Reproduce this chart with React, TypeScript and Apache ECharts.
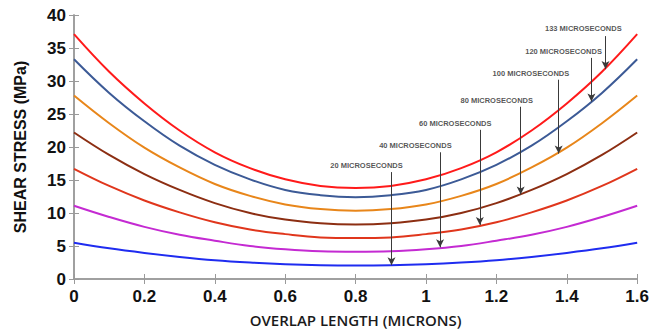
import React, { useEffect, useRef } from "react";
import * as echarts from "echarts";

const xValues = [0, 0.1, 0.2, 0.3, 0.4, 0.5, 0.6, 0.7, 0.8, 0.9, 1.0, 1.1, 1.2, 1.3, 1.4, 1.5, 1.6];

const s133 = [37.1, 31.4, 26.6, 22.5, 19.2, 16.8, 15.1, 14.1, 13.8, 14.1, 15.1, 16.8, 19.2, 22.5, 26.6, 31.4, 37.1];
const s120 = [33.3, 28.2, 23.9, 20.2, 17.3, 15.1, 13.5, 12.7, 12.4, 12.7, 13.5, 15.1, 17.3, 20.2, 23.9, 28.2, 33.3];
const s100 = [27.8, 23.6, 19.9, 16.9, 14.4, 12.6, 11.3, 10.6, 10.35, 10.6, 11.3, 12.6, 14.4, 16.9, 19.9, 23.6, 27.8];
const s80 = [22.2, 18.8, 15.9, 13.5, 11.5, 10.0, 9.0, 8.45, 8.27, 8.45, 9.0, 10.0, 11.5, 13.5, 15.9, 18.8, 22.2];
const s60 = [16.7, 14.1, 11.9, 10.1, 8.6, 7.5, 6.8, 6.3, 6.2, 6.3, 6.8, 7.5, 8.6, 10.1, 11.9, 14.1, 16.7];
const s40 = [11.1, 9.4, 7.9, 6.7, 5.8, 5.0, 4.5, 4.2, 4.13, 4.2, 4.5, 5.0, 5.8, 6.7, 7.9, 9.4, 11.1];
const s20 = [5.5, 4.65, 3.95, 3.35, 2.85, 2.5, 2.25, 2.1, 2.05, 2.1, 2.25, 2.5, 2.85, 3.35, 3.95, 4.65, 5.5];

const seriesNames = ["133 MICROSECONDS", "120 MICROSECONDS", "100 MICROSECONDS", "80 MICROSECONDS", "60 MICROSECONDS", "40 MICROSECONDS", "20 MICROSECONDS"];
const seriesData = [s133, s120, s100, s80, s60, s40, s20];
const seriesColors = ["#ff1a1a", "#3c5a96", "#e8861a", "#8c2e12", "#e0361c", "#c42ad2", "#1f2cf0"];

// annotation positions (data coordinates)
const labelX = [1.447, 1.391, 1.298, 1.201, 1.083, 0.970, 0.831];
const labelY = [37.9, 34.4, 31.1, 27.1, 23.5, 20.2, 17.2];
const arrowX = [1.51, 1.47, 1.377, 1.269, 1.153, 1.04, 0.902];
const arrowTop = [36.8, 33.5, 30.2, 26.1, 22.6, 19.2, 16.2];
const arrowTip = [31.8, 26.9, 19.0, 12.8, 8.2, 4.8, 2.1];

const axisColor = "#9a9a9a";

export default function App() {
  const ref = useRef<HTMLDivElement>(null);
  useEffect(() => {
    if (!ref.current) return;
    const chart = echarts.init(ref.current, null, { renderer: "svg" });
    const lineSeries = seriesData.map((d, i) => ({
      type: "line",
      name: seriesNames[i],
      data: d.map((v, j) => [xValues[j], v]),
      smooth: 0.4,
      showSymbol: false,
      symbol: "none",
      lineStyle: { color: seriesColors[i], width: 2 },
      itemStyle: { color: seriesColors[i] },
      silent: true,
      z: 2,
      markLine: {
        silent: true,
        symbol: ["none", "arrow"],
        symbolSize: [6, 8],
        label: { show: false },
        lineStyle: { color: "#3a3a3a", width: 1, type: "solid" },
        data: [[{ coord: [arrowX[i], arrowTop[i]] }, { coord: [arrowX[i], arrowTip[i]] }]],
      },
    }));
    const option: any = {
      animation: false,
      backgroundColor: "#ffffff",
      grid: { left: 74, top: 15, right: 12, bottom: 57, containLabel: false },
      xAxis: [
        {
          type: "value",
          min: 0,
          max: 1.6,
          interval: 0.2,
          name: "OVERLAP LENGTH (MICRONS)",
          nameLocation: "middle",
          nameGap: 33,
          nameTextStyle: { fontFamily: "Open Sans", fontWeight: 600, fontSize: 15, color: "#1a1a1a" },
          axisLine: { lineStyle: { color: axisColor, width: 1.5 } },
          axisTick: { inside: true, length: 5, lineStyle: { color: axisColor } },
          axisLabel: { fontFamily: "Liberation Sans", fontWeight: "bold", fontSize: 17, color: "#111", margin: 9 },
          splitLine: { show: false },
        },
        {
          type: "value",
          position: "top",
          min: 0,
          max: 1.6,
          interval: 0.2,
          axisLine: { lineStyle: { color: axisColor, width: 1.5 } },
          axisTick: { inside: true, length: 5, lineStyle: { color: axisColor } },
          axisLabel: { show: false },
          splitLine: { show: false },
        },
      ],
      yAxis: [
        {
          type: "value",
          min: 0,
          max: 40,
          interval: 5,
          name: "SHEAR STRESS (MPa)",
          nameLocation: "middle",
          nameGap: 46,
          nameTextStyle: { fontFamily: "Liberation Sans", fontWeight: "bold", fontSize: 16, color: "#111" },
          axisLine: { show: true, lineStyle: { color: axisColor, width: 1.5 } },
          axisTick: { show: true, inside: true, length: 5, lineStyle: { color: axisColor } },
          axisLabel: { fontFamily: "Liberation Sans", fontWeight: "bold", fontSize: 17, color: "#111", margin: 8 },
          splitLine: { show: false },
        },
        {
          type: "value",
          position: "right",
          min: 0,
          max: 40,
          interval: 5,
          axisLine: { show: true, lineStyle: { color: axisColor, width: 1.5 } },
          axisTick: { show: true, inside: true, length: 5, lineStyle: { color: axisColor } },
          axisLabel: { show: false },
          splitLine: { show: false },
        },
      ],
      series: [
        ...lineSeries,
        {
          type: "scatter",
          silent: true,
          symbolSize: 1,
          itemStyle: { color: "rgba(0,0,0,0)" },
          z: 5,
          data: seriesNames.map((n, i) => ({ value: [labelX[i], labelY[i]], name: n })),
          label: {
            show: true,
            position: "inside",
            formatter: (p: any) => p.name,
            fontFamily: "Liberation Sans",
            fontWeight: "bold",
            fontSize: 7.5,
            color: "#2a2a2a",
          },
        },
      ],
    };
    chart.setOption(option);
    return () => chart.dispose();
  }, []);
  return (
    <div
      ref={ref}
      style={{ position: "fixed", left: 0, top: 0, width: 652, height: 336, background: "#fff" }}
    />
  );
}
